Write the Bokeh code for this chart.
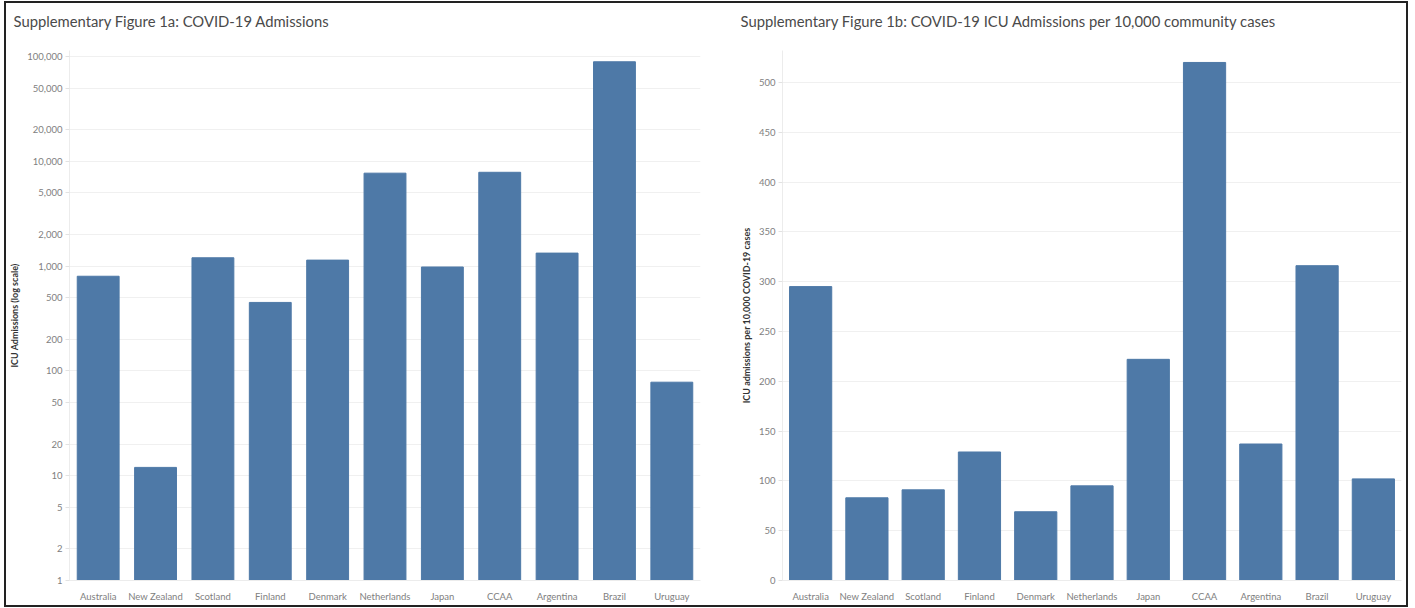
from bokeh.plotting import figure
from bokeh.layouts import row
from bokeh.models import ColumnDataSource, FactorRange, Range1d, FixedTicker, NumeralTickFormatter, Title
from bokeh.embed import file_html
from bokeh.resources import INLINE

# ICU admissions by jurisdiction
countries = ["Australia", "New Zealand", "Scotland", "Finland", "Denmark", "Netherlands",
             "Japan", "CCAA", "Argentina", "Brazil", "Uruguay"]
icu_admissions = [800, 12, 1200, 450, 1140, 7700, 980, 7850, 1330, 89000, 78]
icu_per_10k_cases = [295, 83, 91, 129, 69, 95, 222, 520, 137, 316, 102]

log_ticks = [1, 2, 5, 10, 20, 50, 100, 200, 500, 1000, 2000, 5000, 10000, 20000, 50000, 100000]
linear_ticks = [0, 50, 100, 150, 200, 250, 300, 350, 400, 450, 500]

BAR = "#4e79a7"
FONT = "Lato"
TICK_COLOR = "#808080"
GRID = "#f0f0f0"
LOG_FLOOR = 1


def add_title(p, text, offset):
    # empty strip between the heading and the plot area
    spacer = Title(text=" ", text_font_size="8px", standoff=0)
    p.add_layout(spacer, "above")
    heading = Title(text=text, text_font=FONT, text_font_size="14.8px",
                    text_font_style="normal", text_color="#4a4a4a",
                    align="left", vertical_align="top", offset=offset, standoff=16)
    p.add_layout(heading, "above")


def style(p):
    p.outline_line_color = None
    p.background_fill_color = "white"
    p.border_fill_color = "white"
    p.xgrid.grid_line_color = None
    p.ygrid.grid_line_color = GRID
    p.ygrid.grid_line_width = 1

    xa = p.xaxis[0]
    xa.major_label_text_font = FONT
    xa.major_label_text_font_size = "9.5px"
    xa.major_label_text_color = TICK_COLOR
    xa.major_tick_line_color = None
    xa.minor_tick_line_color = None
    xa.axis_line_color = "#ececec"
    xa.major_label_standoff = 4

    ya = p.yaxis[0]
    ya.major_label_text_font = FONT
    ya.major_label_text_font_size = "9.5px"
    ya.major_label_text_color = TICK_COLOR
    ya.major_tick_out = 4
    ya.major_tick_in = 0
    ya.major_tick_line_color = "#e2e2e2"
    ya.minor_tick_line_color = None
    ya.axis_line_color = "#ececec"
    ya.major_label_standoff = 3
    ya.axis_label_text_font = FONT
    ya.axis_label_text_font_size = "9px"
    ya.axis_label_text_font_style = "bold"
    ya.axis_label_text_color = "#333333"
    ya.axis_label_standoff = 4


# Left: absolute ICU admissions on a log axis
left = figure(width=700, height=602, x_range=FactorRange(*countries),
              y_range=Range1d(LOG_FLOOR, 114000), y_axis_type="log",
              output_backend="svg", toolbar_location=None,
              min_border_left=62, min_border_right=6, min_border_top=0, min_border_bottom=23)
left_src = ColumnDataSource(dict(country=countries, value=icu_admissions))
left.vbar(x="country", top="value", bottom=LOG_FLOOR, width=0.73, source=left_src,
          fill_color=BAR, line_color=BAR)
left.yaxis.ticker = FixedTicker(ticks=log_ticks)
left.yaxis.formatter = NumeralTickFormatter(format="0,0")
left.yaxis.axis_label = "ICU Admissions (log scale)"
style(left)
add_title(left, "Supplementary Figure 1a: COVID-19 Admissions", -56)

# Right: ICU admissions per 10,000 community cases
right = figure(width=700, height=602, x_range=FactorRange(*countries),
               y_range=Range1d(0, 532),
               output_backend="svg", toolbar_location=None,
               min_border_left=76, min_border_right=5, min_border_top=0, min_border_bottom=25)
right_src = ColumnDataSource(dict(country=countries, value=icu_per_10k_cases))
right.vbar(x="country", top="value", width=0.75, source=right_src,
           fill_color=BAR, line_color=BAR)
right.yaxis.ticker = FixedTicker(ticks=linear_ticks)
right.yaxis.axis_label = "ICU admissions per 10,000 COVID-19 cases"
style(right)
add_title(right, "Supplementary Figure 1b: COVID-19 ICU Admissions per 10,000 community cases", -42)

layout = row(left, right, styles={"border": "2px solid #222222", "margin-left": "4px",
                                  "margin-top": "1px", "background": "white"})

open("out.html", "w").write(file_html(layout, INLINE))
